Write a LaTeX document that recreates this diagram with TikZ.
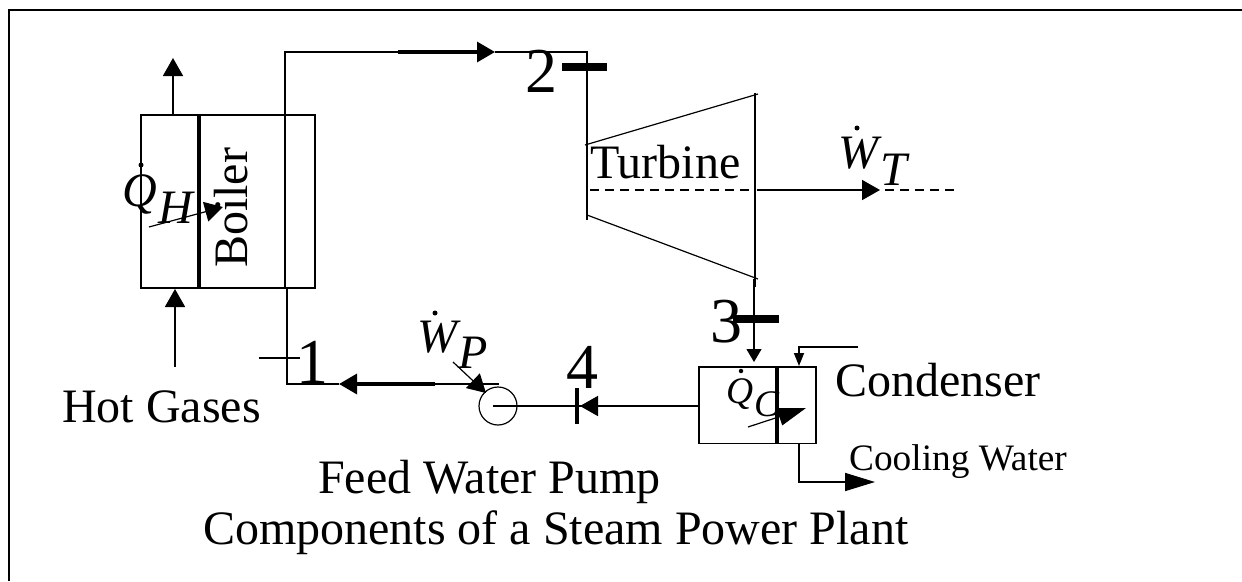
\documentclass[tikz,border=0pt]{standalone}
\usepackage{fontspec}
\setmainfont{Liberation Serif}
\usetikzlibrary{arrows.meta}
\tikzset{x=1pt,y=-1pt,
 wire/.style={draw=black,line width=1.7pt},
 thin wire/.style={draw=black,line width=1.2pt},
 thick bar/.style={draw=black,line width=3.3pt},
 bar5/.style={draw=black,line width=7.5pt},
 tipped/.style={-{Triangle[length=18pt,width=20pt]}},
 tipmid/.style={-{Triangle[length=13pt,width=15pt]}},
 tiptiny/.style={-{Triangle[length=13pt,width=10pt]}},
 tiplong/.style={-{Triangle[length=30pt,width=18pt]}},
 lab/.style={inner sep=0pt,anchor=base west,font=\fontsize{48}{50}\selectfont},
 labS/.style={inner sep=0pt,anchor=base west,font=\fontsize{37.3}{40}\selectfont},
 digit/.style={inner sep=0pt,anchor=base west,font=\fontsize{64}{66}\selectfont},
 sym/.style={inner sep=0pt,anchor=base west,font=\fontsize{48}{50}\selectfont\itshape},
 symS/.style={inner sep=0pt,anchor=base west,font=\fontsize{37.5}{40}\selectfont\itshape},
 dotnode/.style={circle,fill=black,inner sep=0pt,minimum size=5pt},
}
\begin{document}
\begin{tikzpicture}
\useasboundingbox (0,0) rectangle (1242,581);
\fill[white] (0,0) rectangle (1242,581);
\coordinate (fr0) at (9,581); \coordinate (fr1) at (9,10); \coordinate (fr2) at (1242,10);
\draw[draw=black,line width=2pt] (fr0) -- (fr1) -- (fr2);
% boiler
\coordinate (bTL) at (141,115); \coordinate (bBR) at (315,288);
\draw[wire] (bTL) rectangle (bBR);
\coordinate (bw1) at (199,115); \coordinate (bw2) at (199,288);
\draw[thick bar] (bw1) -- (bw2);
\coordinate (gasOutA) at (173,116); \coordinate (gasOutB) at (173,58);
\draw[wire,tipped] (gasOutA) -- (gasOutB);
\coordinate (gasInA) at (175,367); \coordinate (gasInB) at (175,289);
\draw[wire,tipped] (gasInA) -- (gasInB);
% steam line
\coordinate (s0) at (285,288); \coordinate (s1) at (285,52); \coordinate (s2) at (398,52);
\coordinate (s3) at (495,52); \coordinate (s4) at (587,52); \coordinate (s5) at (587,220);
\draw[wire] (s0) -- (s1) -- (s2);
\draw[thick bar,tipped] (s2) -- (s3);
\draw[wire] (s3) -- (s4) -- (s5);
\coordinate (b2a) at (562,67); \coordinate (b2b) at (607,67);
\draw[bar5] (b2a) -- (b2b);
% turbine
\coordinate (t1) at (585,145); \coordinate (t2) at (758,94);
\coordinate (t3) at (587,215); \coordinate (t4) at (758,279);
\draw[thin wire] (t1) -- (t2); \draw[thin wire] (t3) -- (t4);
\coordinate (t5) at (755,93); \coordinate (t6) at (755,287);
\draw[wire] (t5) -- (t6);
\coordinate (d1) at (590,190); \coordinate (d2) at (750,190);
\draw[wire,dash pattern=on 9pt off 6pt] (d1) -- (d2);
\coordinate (sh1) at (757,190); \coordinate (sh2) at (880,190); \coordinate (sh2b) at (885,190); \coordinate (sh3) at (958,190);
\draw[wire,tipped] (sh1) -- (sh2);
\draw[wire,dash pattern=on 9pt off 6pt] (sh2b) -- (sh3);
% turbine to condenser
\coordinate (c0) at (754,279); \coordinate (c1) at (754,362);
\draw[thin wire,tipmid] (c0) -- (c1);
\coordinate (b3a) at (733,319); \coordinate (b3b) at (779,319);
\draw[bar5] (b3a) -- (b3b);
% condenser
\coordinate (cTL) at (699,367); \coordinate (cBR) at (816,443.5);
\draw[wire] (cTL) rectangle (cBR);
\coordinate (cw1) at (777,367); \coordinate (cw2) at (777,443.5);
\draw[thick bar] (cw1) -- (cw2);
\coordinate (cwIn0) at (858,347); \coordinate (cwIn1) at (799,347); \coordinate (cwIn2) at (799,366);
\draw[wire,tiptiny] (cwIn0) -- (cwIn1) -- (cwIn2);
\coordinate (cwOut0) at (799,444); \coordinate (cwOut1) at (799,482); \coordinate (cwOut2) at (875,482);
\draw[wire,tiplong] (cwOut0) -- (cwOut1) -- (cwOut2);
% pump
\node[circle,draw=black,line width=1.2pt,minimum size=38pt,inner sep=0pt] (pump) at (498,406) {};
\coordinate (p0) at (493,406); \coordinate (p4) at (699,406); \coordinate (p5) at (580,406); \coordinate (p6) at (600,406);
\draw[wire] (p0) -- (p4);
\draw[wire,tipped] (p6) -- (p5);
\coordinate (b4a) at (577,388); \coordinate (b4b) at (577,424);
\draw[thick bar] (b4a) -- (b4b);
% feed line
\coordinate (f0) at (287,288); \coordinate (f1) at (287,384); \coordinate (f2) at (339,384);
\coordinate (f3) at (435,384); \coordinate (f4) at (499,384);
\draw[wire] (f0) -- (f1) -- (f2);
\draw[thick bar,tipped] (f3) -- (f2);
\draw[wire] (f3) -- (f4);
\coordinate (tick1a) at (259,358); \coordinate (tick1b) at (300,358);
\draw[wire] (tick1a) -- (tick1b);
% heat arrows
\coordinate (qh0) at (149,227); \coordinate (qh1) at (223,207);
\draw[thin wire,tipped] (qh0) -- (qh1);
\coordinate (qc0) at (748,427); \coordinate (qc1) at (806,408);
\draw[thin wire,-{Triangle[length=28pt,width=18pt]}] (qc0) -- (qc1);
\coordinate (wp0) at (453,362); \coordinate (wp1) at (486,393);
\draw[thin wire,tipped] (wp0) -- (wp1);
% labels
\node[lab,rotate=90] (boiler) at (247,268) {Boiler};
\node[lab] (turbine) at (590,178) {Turbine};
\node[digit] (one) at (296,383) {1};
\node[digit] (two) at (525,92) {2};
\node[digit] (three) at (710,342) {3};
\node[digit] (four) at (566,388) {4};
\node[lab] (hot) at (62,422) {Hot Gases};
\node[lab] (cond) at (835,396) {Condenser};
\node[labS] (cw) at (849,470) {Cooling Water};
\node[lab] (fwp) at (318,493) {Feed Water Pump};
\node[lab] (title) at (203,544) {Components of a Steam Power Plant};
\node[sym] (qh) at (122,206) {Q}; \node[dotnode] (qhd) at (141,165) {};
\node[sym] (qhs) at (158,223) {H};
\node[symS] (qc) at (726,403) {Q}; \node[dotnode,minimum size=4.5pt] (qcd) at (741,371) {};
\node[symS] (qcs) at (754,416) {C};
\node[sym] (wp) at (417,352) {W}; \node[dotnode] (wpd) at (435,313) {};
\node[sym] (wps) at (458,368) {P};
\node[sym] (wt) at (838,168) {W}; \node[dotnode] (wtd) at (857,128) {};
\node[sym] (wts) at (880,185) {T};
\end{tikzpicture}
\end{document}
